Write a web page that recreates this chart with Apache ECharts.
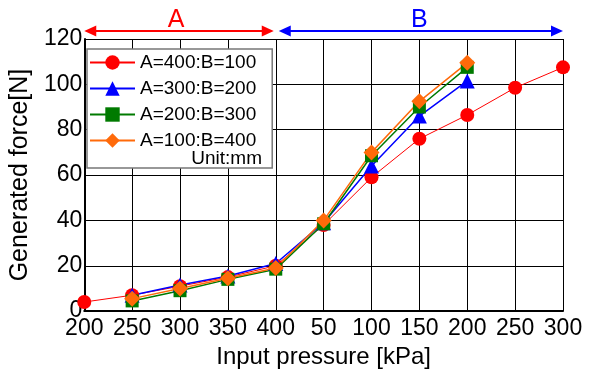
<!DOCTYPE html>
<html>
<head>
<meta charset="utf-8">
<script src="https://cdn.jsdelivr.net/npm/echarts@6/dist/echarts.min.js"></script>
<style>
  html, body { margin: 0; padding: 0; background: #fff; }
  #main { width: 602px; height: 374px; }
</style>
</head>
<body>
<div id="main"></div>
<script>
// x categories: A range 200-400 kPa, then B range 50-300 kPa
var categories = ['200', '250', '300', '350', '400', '50', '100', '150', '200', '250', '300'];
var yTicks = [0, 20, 40, 60, 80, 100, 120];

var seriesNames = ['A=400:B=100', 'A=300:B=200', 'A=200:B=300', 'A=100:B=400'];
var red = [4, 7, 11, 15, 20, 38, 59, 76, 86.5, 98.5, 107.5];
var blue = [null, 7, 11.5, 15.5, 21, 39, 64, 86, 101.5, null, null];
var green = [null, 4.5, 9, 14, 18.5, 38.5, 68.5, 90, 107.5, null, null];
var orange = [null, 5.5, 10, 14.5, 19, 40, 70, 92.5, 109.5, null, null];

var font = 'Liberation Sans';
var chart = echarts.init(document.getElementById('main'));

function lineSeries(name, data, color, symbol, size, width) {
  return {
    name: name,
    type: 'line',
    data: data,
    symbol: symbol,
    symbolSize: size,
    connectNulls: false,
    lineStyle: { color: color, width: width },
    itemStyle: { color: color },
    emphasis: { disabled: true }
  };
}

var option = {
  animation: false,
  grid: { left: 81, right: 39, top: 39, bottom: 61 },
  legend: {
    orient: 'vertical',
    left: 87,
    top: 49,
    data: seriesNames,
    itemWidth: 45,
    itemHeight: 18,
    itemGap: 7,
    padding: [4, 16, 18, 2],
    backgroundColor: '#fff',
    borderColor: '#777',
    borderWidth: 1.5,
    borderRadius: 0,
    textStyle: { fontFamily: font, fontSize: 19, color: '#000' }
  },
  xAxis: {
    type: 'category',
    data: categories,
    boundaryGap: false,
    name: 'Input pressure [kPa]',
    nameLocation: 'middle',
    nameGap: 30,
    nameTextStyle: { fontFamily: font, fontSize: 24, color: '#000' },
    axisLine: { lineStyle: { color: '#000', width: 2 } },
    axisTick: { show: false },
    axisLabel: { interval: 0, margin: 6, fontFamily: font, fontSize: 23, color: '#000' },
    splitLine: { show: true, lineStyle: { color: '#000', width: 1 } }
  },
  yAxis: {
    type: 'value',
    min: yTicks[0],
    max: yTicks[yTicks.length - 1],
    interval: 20,
    name: 'Generated force[N]',
    nameLocation: 'middle',
    nameGap: 37,
    nameTextStyle: { fontFamily: font, fontSize: 25, color: '#000' },
    axisLine: { show: true, lineStyle: { color: '#000', width: 2 } },
    axisTick: { show: false },
    axisLabel: { margin: 2, fontFamily: font, fontSize: 23, color: '#000' },
    splitLine: { show: true, lineStyle: { color: '#000', width: 1 } }
  },
  series: [
    lineSeries(seriesNames[0], red, '#ff0000', 'circle', 14, 1),
    lineSeries(seriesNames[1], blue, '#0000ff', 'triangle', 15, 1.5),
    lineSeries(seriesNames[2], green, '#007a00', 'rect', 13, 1.5),
    lineSeries(seriesNames[3], orange, '#ff6a0a', 'diamond', 16, 1.5)
  ]
};
chart.setOption(option);

// A / B range arrows above the plot, placed from the axis scales
var x0 = chart.convertToPixel({ xAxisIndex: 0 }, 0);
var x4 = chart.convertToPixel({ xAxisIndex: 0 }, 4);
var x10 = chart.convertToPixel({ xAxisIndex: 0 }, 10);
var yTop = chart.convertToPixel({ yAxisIndex: 0 }, 120);
var ay = yTop - 8;

function arrow(xa, xb, color) {
  var h = 12, w = 5.5;
  return [
    { type: 'line', shape: { x1: xa + 4, y1: ay, x2: xb - 4, y2: ay }, style: { stroke: color, lineWidth: 2 } },
    { type: 'polygon', shape: { points: [[xa, ay], [xa + h, ay - w], [xa + h, ay + w]] }, style: { fill: color } },
    { type: 'polygon', shape: { points: [[xb, ay], [xb - h, ay - w], [xb - h, ay + w]] }, style: { fill: color } }
  ];
}

var g = [].concat(
  arrow(x0, x4 - 2, '#ff0000'),
  arrow(x4 + 3, x10, '#0000ff'),
  [
    { type: 'text', x: (x0 + x4) / 2 - 4, y: ay + 2, style: { text: 'A', fill: '#ff0000', font: '25px "Liberation Sans"', textAlign: 'center', textVerticalAlign: 'bottom' } },
    { type: 'text', x: (x4 + x10) / 2, y: ay + 2, style: { text: 'B', fill: '#0000ff', font: '25px "Liberation Sans"', textAlign: 'center', textVerticalAlign: 'bottom' } },
    { type: 'text', x: 262, y: 168, style: { text: 'Unit:mm', fill: '#000', font: '19px "Liberation Sans"', textAlign: 'right', textVerticalAlign: 'bottom' }, z: 100 }
  ]
);
chart.setOption({ graphic: g });
</script>
</body>
</html>
